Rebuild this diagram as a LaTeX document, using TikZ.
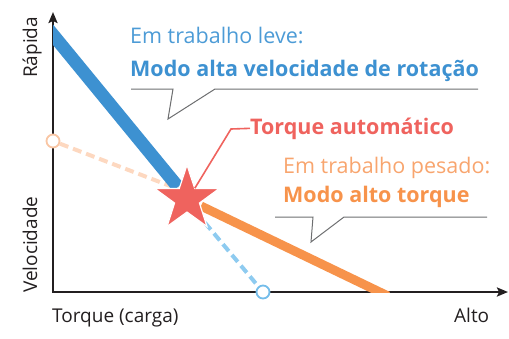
\documentclass[tikz,border=0pt]{standalone}
\usepackage{fontspec}
\setmainfont{Open Sans}
\usetikzlibrary{positioning,arrows.meta,shapes.geometric}
\definecolor{axisblack}{HTML}{231F20}
\definecolor{fastblue}{HTML}{3D91D1}
\definecolor{leveblue}{HTML}{4C9BD6}
\definecolor{dashblue}{HTML}{8ECBF0}
\definecolor{ringblue}{HTML}{74BDEA}
\definecolor{peach}{HTML}{FDD8C0}
\definecolor{ringpeach}{HTML}{F9C6A4}
\definecolor{torqueorange}{HTML}{F7934B}
\definecolor{pesadoorange}{HTML}{F8A56E}
\definecolor{autored}{HTML}{EF635E}
\definecolor{calloutgray}{HTML}{6D6E70}
\tikzset{
	every node/.style = {inner sep = 0},
	>=Stealth,
	axis/.style = {draw=axisblack, line width=2.3pt, line join=miter},
	curve/.style = {line width=#1, line cap=butt},
	dashcurve/.style = {line width=4pt, dash pattern=on 9pt off 5pt},
	ring/.style = {circle, draw=#1, line width=1.8pt, fill=white, minimum size=13pt},
	autostar/.style = {star, star points=5, star point ratio=2.6, minimum size=68pt},
	callout/.style = {draw=calloutgray, line width=1pt, line join=miter},
	lighttext/.style = {font=\fontsize{21.5}{26}\selectfont, anchor=base west},
	boldtext/.style = {font=\fontsize{21.5}{26}\selectfont\bfseries, anchor=base west},
	axislabel/.style = {font=\fontsize{19}{23}\selectfont, text=axisblack, anchor=base west}
}
\begin{document}
\begin{tikzpicture}[x=1pt, y=-1pt]
		\useasboundingbox (0,0) rectangle (509,338);
		% axes
		\coordinate (origin) at (53,292);
		\coordinate (ytip) at (53,12);
		\coordinate (xtip) at (508,292);
		\draw[axis, {Stealth[length=11pt,width=9pt,inset=2pt]}-{Stealth[length=11pt,width=9pt,inset=2pt]}] (ytip) -- (origin) -- (xtip);
		
		% rings where the dashed lines meet the axes
		\node(peachring)[ring=ringpeach] at (53,141) {};
		\node(bluering)[ring=ringblue] at (263,292) {};
		\node(auto)[autostar] at (187,199) {};
		
		\path[draw=peach, dashcurve] (peachring) -- (178,189);
		\path[draw=dashblue, dashcurve] (196,212) -- (bluering);
		
		\begin{scope}
		\clip (53,0) rectangle (509,292);
		\coordinate (fasttop) at (45,25);
		\coordinate (fastend) at (178,187);
		\coordinate (slowstart) at (201,206);
		\coordinate (slowend) at (388,296);
		\draw[fastblue, curve=13pt] (fasttop) -- (fastend);
		\draw[torqueorange, curve=9pt] (slowstart) -- (slowend);
		\end{scope}
		
		\node[autostar, fill=autored, draw=white, line width=1.2pt] at (auto) {};
		
		% callouts
		\coordinate (levetip) at (168,119);
		\coordinate (pesadotip) at (311,242);
		\draw[callout] (131,89) -- (173,89) -- (levetip) -- (215,89) -- (478,89);
		\draw[callout] (275,217) -- (313,217) -- (pesadotip) -- (344,217) -- (487,217);
		
		% texts
		\node(leve)[lighttext, text=leveblue] at (130,43) {Em trabalho leve:};
		\node(rapido)[boldtext, text=fastblue] at (130,76) {Modo alta velocidade de rotação};
		\node(autolabel)[boldtext, text=autored] at (250,134) {Torque automático};
		\node(pesado)[lighttext, text=pesadoorange] at (283,173) {Em trabalho pesado:};
		\node(forte)[boldtext, text=torqueorange] at (283,202) {Modo alto torque};
		
		\coordinate (autobend) at (231,129);
		\draw[autored, line width=1.6pt] (auto.inner point 5) -- (autobend) -- (autolabel.west);
		
		\node(xname)[axislabel] at (52,322) {Torque (carga)};
		\node(xhigh)[axislabel] at (454,322) {Alto};
		\node(yhigh)[axislabel, rotate=90] at (37,78) {Rápida};
		\node(yname)[axislabel, rotate=90] at (37,293) {Velocidade};
\end{tikzpicture}
\end{document}
